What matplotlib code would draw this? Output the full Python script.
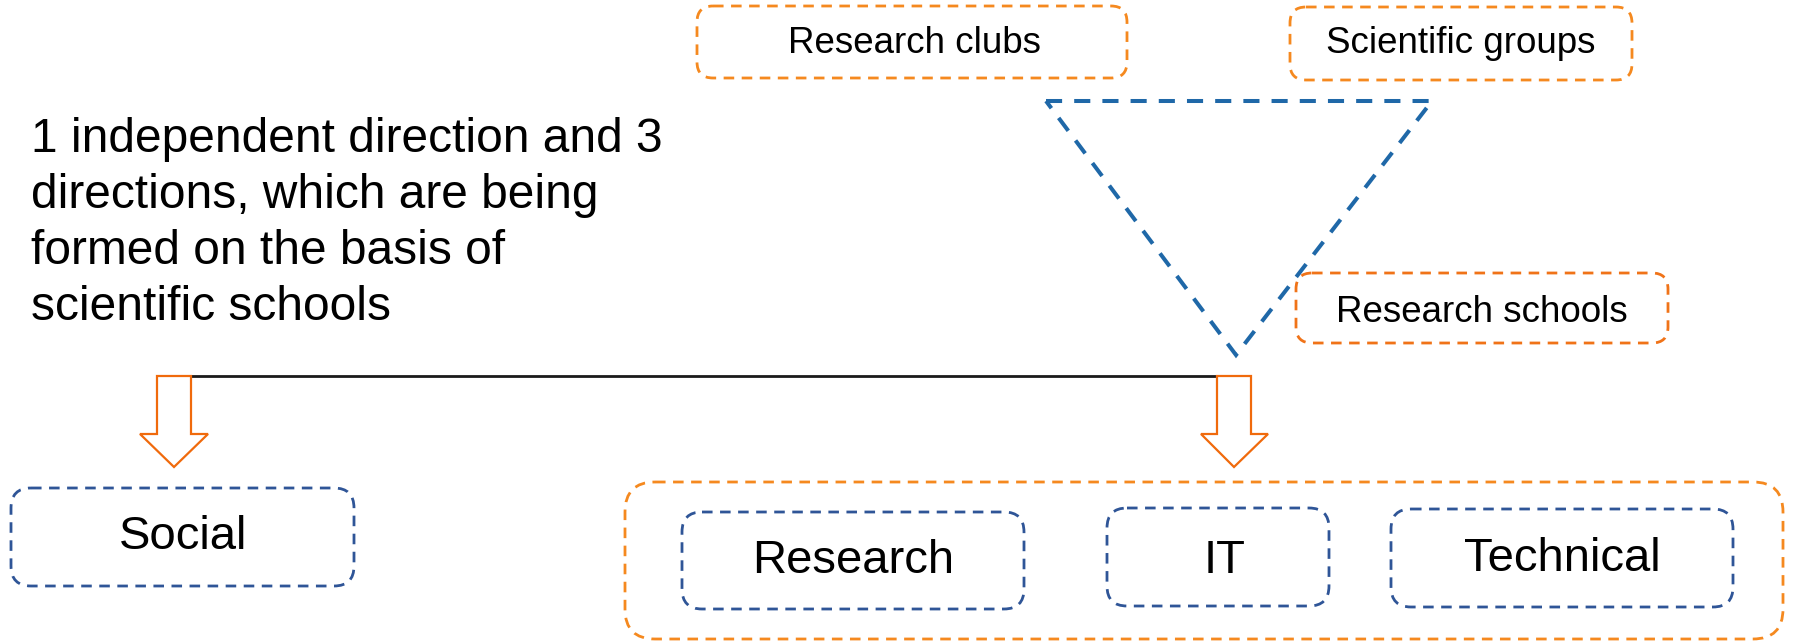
import matplotlib
matplotlib.use("Agg")
import matplotlib.pyplot as plt
from matplotlib.patches import FancyBboxPatch, Polygon

plt.rcParams['font.family'] = ['Liberation Sans', 'DejaVu Sans']

# ---- content ----
top_labels = ["Research clubs", "Scientific groups", "Research schools"]
direction_labels = ["Social", "Research", "IT", "Technical"]
intro_lines = ["1 independent direction and 3",
               "directions, which are being",
               "formed on the basis of",
               "scientific schools"]

# ---- layout (pixel coordinates, y downwards) ----
W, H = 1794, 642
top_boxes = [(697, 6, 430, 72), (1290, 7, 342, 73), (1296, 273, 372, 70)]
top_text = [(915, 53), (1461, 53), (1482, 322)]
top_colors = ["#F5891F", "#F5891F", "#F07318"]

dir_boxes = [(11, 488, 343, 98), (682, 512, 342, 97), (1107, 508, 222, 98), (1391, 509, 342, 98)]
dir_text = [(183, 549), (853, 573), (1225, 573), (1562, 571)]

big_box = (625, 482, 1158, 157)
triangle = [(1046, 101), (1432, 101), (1236, 355)]
hline = ((157, 1243), 376)
arrows = [(157, 191, 140, 208, 376, 434, 467), (1217, 1251, 1201, 1268, 376, 434, 467)]
intro_x, intro_baselines = 31, [152, 208, 264, 320]

fig = plt.figure(figsize=(W / 100, H / 100), dpi=100)
ax = fig.add_axes([0, 0, 1, 1])
ax.set_xlim(0, W)
ax.set_ylim(H, 0)
ax.axis('off')

def rbox(b, color, lw=2.0, dash=(3.8, 2.7), r=16):
    x, y, w, h = b
    p = FancyBboxPatch((x, y), w, h, boxstyle=f"round,pad=0,rounding_size={r}",
                       fill=False, edgecolor=color, linewidth=lw,
                       linestyle=(0, dash), zorder=2)
    ax.add_patch(p)

# top orange boxes
for b, (tx, ty), lab, c in zip(top_boxes, top_text, top_labels, top_colors):
    rbox(b, c)
    ax.text(tx, ty, lab, fontsize=26.5, ha='center', va='baseline', color='black', zorder=3)

# triangle
tri = Polygon(triangle, closed=True, fill=False, edgecolor="#1F68A8", linewidth=2.9,
              linestyle=(0, (4.0, 3.0)), zorder=2)
ax.add_patch(tri)

# intro text
for line, yb in zip(intro_lines, intro_baselines):
    ax.text(intro_x, yb, line, fontsize=34.5, ha='left', va='baseline', color='black')

# horizontal connector
(x0, x1), yl = hline
ax.plot([x0, x1], [yl, yl], color='#1a1a1a', linewidth=2.0, solid_capstyle='butt', zorder=3)

# block arrows
for sl, sr, hl, hr, yt, yh, ytip in arrows:
    pts = [(sl, yt), (sl, yh), (hl, yh), ((sl + sr) / 2, ytip), (hr, yh), (sr, yh), (sr, yt)]
    ax.add_patch(Polygon(pts, closed=True, facecolor='white', edgecolor='#F06A0C',
                         linewidth=1.6, joinstyle='miter', zorder=4))

# big orange container
rbox(big_box, "#F5891F", r=30)

# direction boxes
for b, (tx, ty), lab in zip(dir_boxes, dir_text, direction_labels):
    rbox(b, "#2F5597", r=20)
    ax.text(tx, ty, lab, fontsize=34, ha='center', va='baseline', color='black', zorder=3)

fig.savefig("out.png", dpi=100)
